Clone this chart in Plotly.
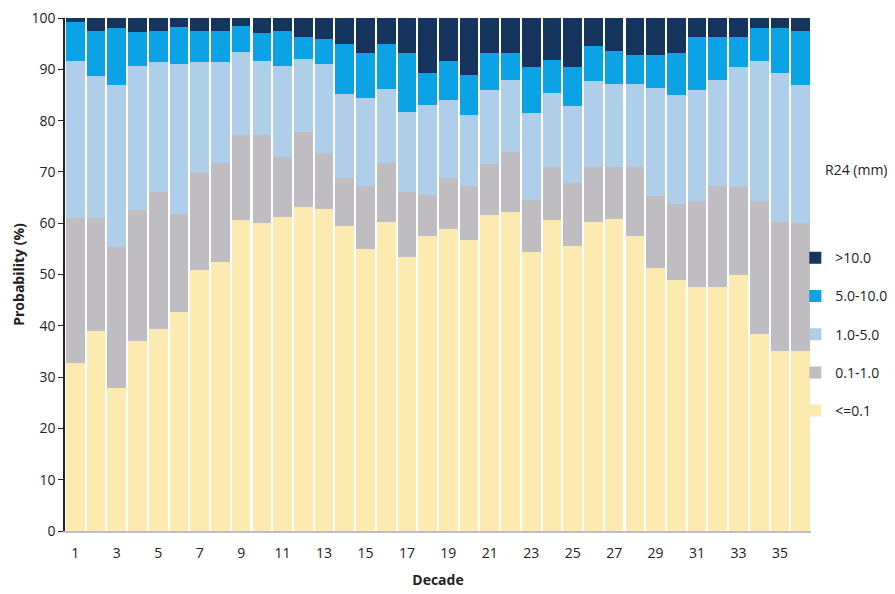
import plotly.graph_objects as go

decades = list(range(1, 37))
tick_vals = list(range(1, 36, 2))

le_0_1 = [32.7, 39.0, 27.8, 37.0, 39.3, 42.6, 50.9, 52.5, 60.6, 60.0, 61.2, 63.1,
          62.7, 59.5, 55.0, 60.3, 53.5, 57.6, 58.8, 56.7, 61.6, 62.2, 54.4, 60.6,
          55.6, 60.3, 60.8, 57.6, 51.3, 48.9, 47.6, 47.6, 49.9, 38.5, 35.1, 35.0]
r_0_1_1 = [28.3, 22.0, 27.6, 25.6, 26.8, 19.2, 18.9, 19.2, 16.6, 17.2, 11.8, 14.7,
           10.9, 9.4, 12.3, 11.4, 12.6, 7.9, 10.1, 10.6, 9.9, 11.7, 10.1, 10.3,
           12.3, 10.6, 10.1, 13.3, 14.1, 14.8, 16.8, 19.7, 17.1, 25.9, 25.2, 25.0]
r_1_5 = [30.6, 27.7, 31.5, 28.0, 25.4, 29.2, 21.7, 19.8, 16.2, 14.4, 17.6, 14.2,
         17.4, 16.2, 17.2, 14.4, 15.6, 17.5, 15.1, 13.8, 14.5, 14.1, 17.0, 14.5,
         15.0, 16.9, 16.2, 16.2, 21.0, 21.3, 21.6, 20.7, 23.4, 27.2, 28.9, 27.0]
r_5_10 = [7.7, 8.8, 11.2, 6.6, 6.0, 7.2, 6.0, 6.0, 5.0, 5.5, 6.9, 4.2,
          5.0, 9.9, 8.6, 8.8, 11.4, 6.2, 7.7, 7.7, 7.1, 5.1, 9.0, 6.4,
          7.5, 6.8, 6.5, 5.6, 6.3, 8.1, 10.2, 8.2, 5.8, 6.4, 8.8, 10.5]
gt_10 = [0.7, 2.5, 1.9, 2.8, 2.5, 1.8, 2.5, 2.5, 1.6, 2.9, 2.5, 3.8,
         4.0, 5.0, 6.9, 5.1, 6.9, 10.8, 8.3, 11.2, 6.9, 6.9, 9.5, 8.2,
         9.6, 5.4, 6.4, 7.3, 7.3, 6.9, 3.8, 3.8, 3.8, 2.0, 2.0, 2.5]

series = [
    ("<=0.1", le_0_1, "#FDEAB0"),
    ("0.1-1.0", r_0_1_1, "#BFBDC1"),
    ("1.0-5.0", r_1_5, "#AFCEEA"),
    ("5.0-10.0", r_5_10, "#0BA3E6"),
    (">10.0", gt_10, "#15355E"),
]

fig = go.Figure()
n = len(series)
for i, (name, vals, color) in enumerate(series):
    fig.add_trace(go.Bar(
        x=decades, y=vals, name=name, legendgroup=f"g{i}",
        legendrank=(n - i) * 100,
        marker=dict(color=color, line=dict(width=0)),
    ))

font = "Open Sans, Segoe UI, Arial, sans-serif"
fig.update_layout(
    width=887, height=586,
    barmode="stack", bargap=0.1,
    plot_bgcolor="white", paper_bgcolor="white",
    margin=dict(l=57, r=84, t=10, b=63, autoexpand=False),
    font=dict(family=font, size=13, color="#222222"),
    showlegend=True,
    legend=dict(
        x=0.979, xanchor="left", y=0.563, yanchor="top",
        traceorder="grouped", tracegroupgap=17,
        font=dict(size=14, color="#222222"),
        bgcolor="rgba(0,0,0,0)", itemwidth=30,
    ),
    xaxis=dict(
        range=[0.5, 36.5], tickmode="array", tickvals=tick_vals,
        ticktext=[str(v) for v in tick_vals],
        showgrid=False, zeroline=False, automargin=False,
        showline=True, linecolor="#BFBFBF", linewidth=1.5,
        ticks="outside", ticklen=8, tickcolor="rgba(0,0,0,0)",
        ticklabeloverflow="allow",
        tickfont=dict(size=14, color="#222222"),
        title=dict(text="<b>Decade</b>", font=dict(size=14, color="#222222"), standoff=15),
    ),
    yaxis=dict(
        range=[0, 100], tickmode="linear", tick0=0, dtick=10,
        showgrid=False, zeroline=False, automargin=False,
        showline=True, linecolor="#222222", linewidth=1.5,
        ticks="outside", ticklen=5, tickcolor="#222222",
        ticklabeloverflow="allow",
        tickfont=dict(size=14, color="#222222"),
        title=dict(text="<b>Probability (%)</b>", font=dict(size=14, color="#222222"), standoff=4),
    ),
    annotations=[dict(
        text="R24 (mm)", xref="paper", yref="paper", x=1.016, y=0.704,
        xanchor="left", yanchor="middle", showarrow=False,
        font=dict(size=14, color="#222222"),
    )],
)

fig.write_html("out.html")
